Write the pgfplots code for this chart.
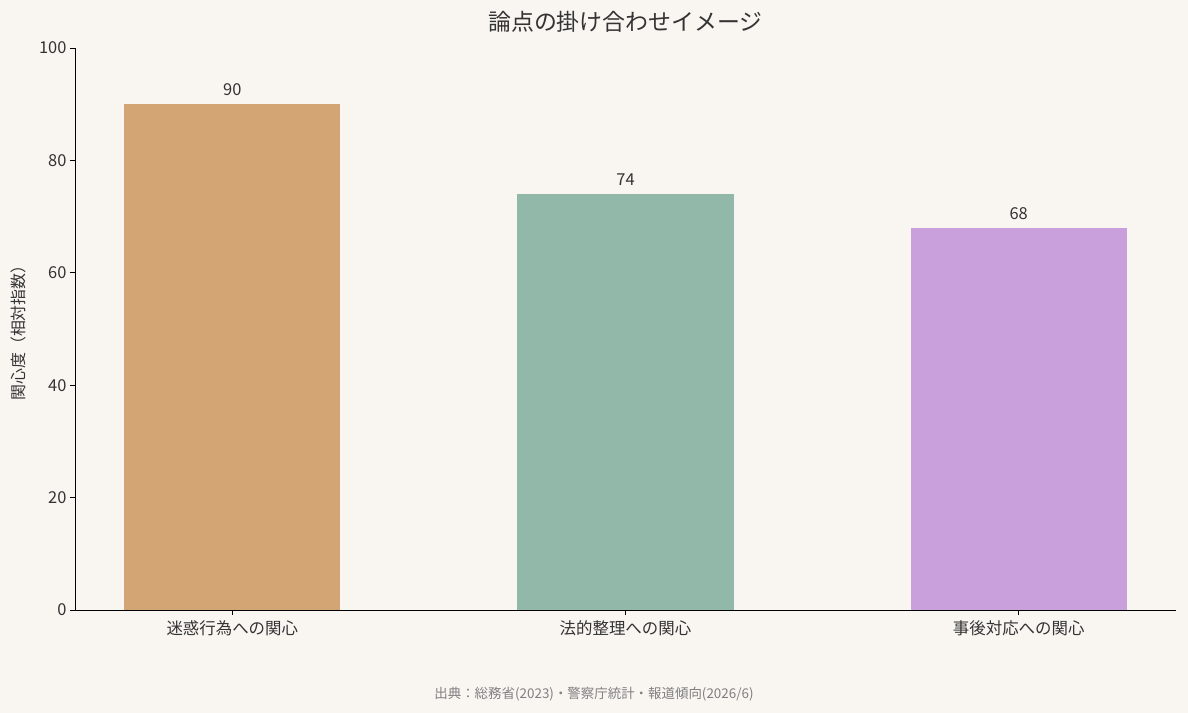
\documentclass[border=0pt]{standalone}
\usepackage{pgfplots}
\pgfplotsset{compat=1.18}
\usepackage{fontspec}
\setmainfont{Noto Sans CJK JP}
\definecolor{bg}{HTML}{F9F6F2}
\definecolor{txt}{HTML}{333333}
\definecolor{barA}{HTML}{D4A574}
\definecolor{barB}{HTML}{91B8A8}
\definecolor{barC}{HTML}{C9A0DC}
\begin{document}
\begin{tikzpicture}
\fill[bg] (-75bp,-103bp) rectangle (1113bp,610bp);
\begin{axis}[
    scale only axis,
    width=1101bp, height=562bp,
    ybar, bar width=0.55, bar shift=0pt,
    xmin=-0.4, xmax=2.4,
    ymin=0, ymax=100,
    ytick={0,20,40,60,80,100},
    xtick={0,1,2},
    xticklabels={迷惑行為への関心,法的整理への関心,事後対応への関心},
    axis lines=left,
    axis line style={-, black, line width=0.9pt},
    tick align=outside,
    major tick length=5bp,
    tick style={black, line width=0.9pt},
    ticklabel style={font=\fontsize{16.5}{19}\selectfont, text=txt},
    xticklabel style={yshift=-2bp},
    /pgf/number format/assume math mode=true,
    ylabel={関心度（相対指数）},
    ylabel style={font=\fontsize{16}{19}\selectfont, text=txt, yshift=6bp},
    title={論点の掛け合わせイメージ},
    title style={font=\fontsize{23}{27}\selectfont, text=txt, yshift=6bp},
    nodes near coords,
    nodes near coords style={font=\fontsize{16.5}{19}\selectfont, text=txt, yshift=5bp},
    every node near coord/.append style={/pgf/number format/assume math mode=true},
]
\addplot[fill=barA, draw=none] coordinates {(0,90)};
\addplot[fill=barB, draw=none] coordinates {(1,74)};
\addplot[fill=barC, draw=none] coordinates {(2,68)};
\end{axis}
\node[font=\fontsize{13.5}{16}\selectfont, text=gray] at (519bp,-84bp) {出典：総務省(2023)・警察庁統計・報道傾向(2026/6)};
\pgfresetboundingbox
\path[use as bounding box] (-75bp,-103bp) rectangle (1113bp,610bp);
\end{tikzpicture}
\end{document}
